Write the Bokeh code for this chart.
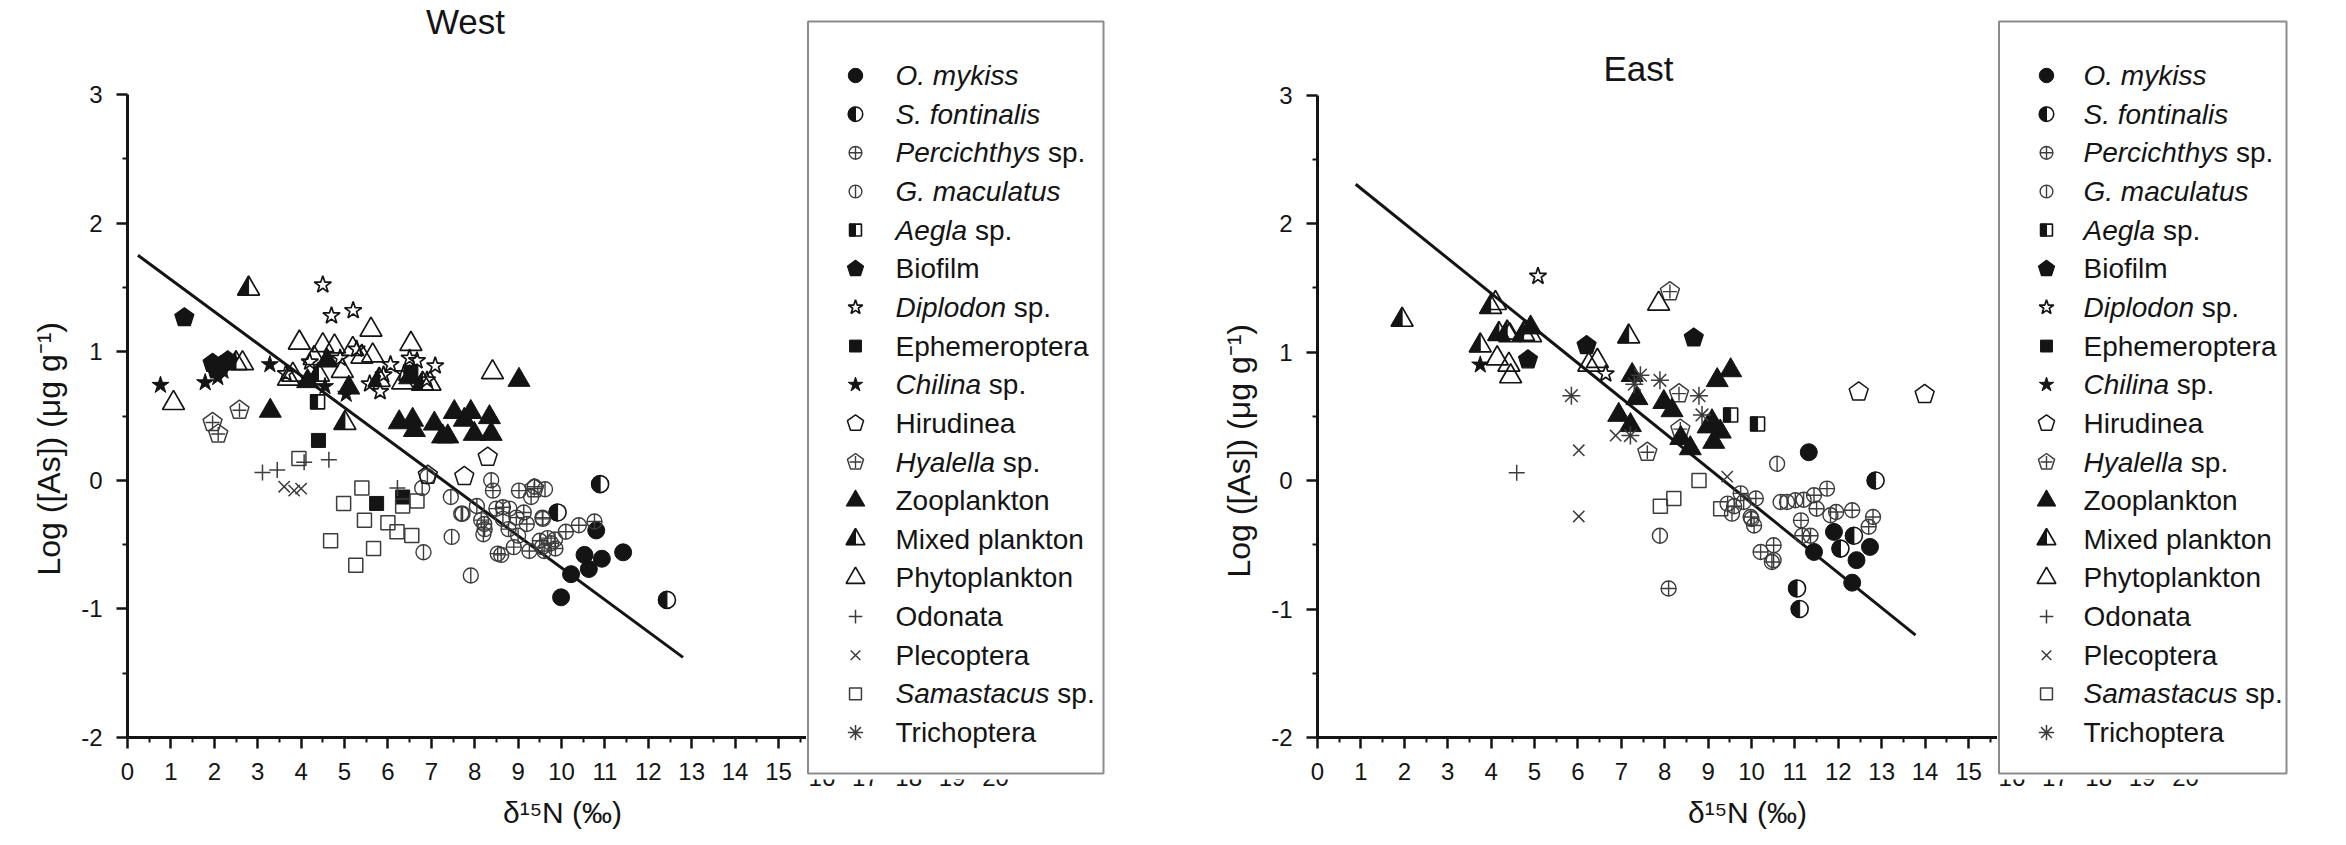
import math
from bokeh.plotting import figure
from bokeh.models import FixedTicker, Label, Range1d, Title
from bokeh.layouts import row
from bokeh.embed import file_html
from bokeh.resources import INLINE
from bokeh.core.properties import value

FONT = "Liberation Sans"
INK = "#141414"
GREY = "#3c3c3c"

# ------------------------------------------------------------------ data
SPECIES = ["o_mykiss", "s_fontinalis", "percichthys", "g_maculatus", "aegla",
           "biofilm", "diplodon", "ephemeroptera", "chilina", "hirudinea",
           "hyalella", "zooplankton", "mixed_plankton", "phytoplankton",
           "odonata", "plecoptera", "samastacus", "trichoptera"]
LEGEND_ITALIC = ["O. mykiss", "S. fontinalis", "Percichthys", "G. maculatus", "Aegla",
                 "", "Diplodon", "", "Chilina", "", "Hyalella", "", "", "", "", "",
                 "Samastacus", ""]
LEGEND_REGULAR = ["", "", "sp.", "", "sp.", "Biofilm", "sp.", "Ephemeroptera", "sp.",
                  "Hirudinea", "sp.", "Zooplankton", "Mixed plankton", "Phytoplankton",
                  "Odonata", "Plecoptera", "sp.", "Trichoptera"]

X_TICKS = list(range(0, 21))
Y_TICKS = [-2, -1, 0, 1, 2, 3]

# West (d15N, log As)
west_o_mykiss = [(10.80, -0.39), (10.53, -0.58), (10.93, -0.61), (11.42, -0.56), (10.63, -0.69),
                 (10.22, -0.73), (9.99, -0.91)]
west_s_fontinalis = [(10.89, -0.03), (9.91, -0.25), (12.43, -0.93)]
west_percichthys = [(8.15, -0.31), (8.23, -0.38), (8.53, -0.57), (8.90, -0.52), (9.20, -0.34),
                    (9.56, -0.29), (10.10, -0.40), (10.40, -0.35), (10.76, -0.32), (9.38, -0.05),
                    (9.02, -0.08), (8.65, -0.21), (8.50, -0.22), (9.13, -0.25), (9.68, -0.45),
                    (9.86, -0.53), (9.50, -0.47), (8.96, -0.29), (8.78, -0.38), (8.42, -0.08),
                    (8.61, -0.58), (9.26, -0.55), (9.60, -0.55), (8.22, -0.34), (9.76, -0.49),
                    (9.57, -0.30)]
west_g_maculatus = [(6.79, -0.06), (6.91, 0.03), (6.82, -0.56), (7.47, -0.44), (7.45, -0.13),
                    (7.91, -0.74), (7.69, -0.26), (8.38, 0.00), (8.05, -0.20), (8.65, -0.30),
                    (9.00, -0.43), (9.30, -0.13), (9.62, -0.07), (9.85, -0.46), (8.20, -0.42),
                    (8.80, -0.22), (9.55, -0.52), (7.72, -0.26)]
west_aegla = [(4.38, 0.61)]
west_biofilm = [(1.31, 1.265), (1.96, 0.91), (2.15, 0.89), (2.31, 0.93), (2.05, 0.86)]
west_diplodon = [(4.50, 1.52), (4.70, 1.28), (5.20, 1.32), (3.65, 0.83), (5.58, 0.75), (5.82, 0.69),
                 (6.06, 0.90), (6.67, 0.93), (7.09, 0.89), (6.37, 0.83), (5.28, 1.02), (4.90, 0.95),
                 (6.90, 0.78), (5.90, 0.82), (6.50, 0.95), (4.20, 0.92)]
west_ephemeroptera = [(4.40, 0.31), (5.74, -0.18), (6.34, -0.13), (6.53, 0.84)]
west_chilina = [(0.76, 0.74), (1.79, 0.76), (2.08, 0.80), (3.28, 0.90), (5.04, 0.67), (4.55, 0.73),
                (2.20, 0.85)]
west_hirudinea = [(8.30, 0.18), (7.76, 0.03), (6.92, 0.04)]
west_hyalella = [(2.58, 0.545), (1.96, 0.45), (2.09, 0.36), (9.37, -0.065)]
west_zooplankton = [(3.29, 0.54), (9.02, 0.78), (6.26, 0.45), (6.57, 0.47), (6.61, 0.39), (7.07, 0.44),
                    (7.26, 0.34), (7.53, 0.53), (7.76, 0.47), (7.91, 0.53), (8.34, 0.49), (8.38, 0.36),
                    (7.99, 0.36), (7.38, 0.34), (4.15, 0.77), (5.10, 0.72), (4.60, 0.93), (6.50, 0.80)]
west_mixed_plankton = [(2.79, 1.49), (2.50, 0.91), (5.01, 0.445), (4.40, 0.82), (5.80, 0.78),
                       (6.80, 0.75)]
west_phytoplankton = [(1.06, 0.60), (2.65, 0.91), (3.96, 1.07), (4.50, 1.05), (5.61, 1.17),
                      (6.53, 1.06), (8.41, 0.84), (3.71, 0.79), (5.40, 0.96), (6.97, 0.75),
                      (5.19, 1.02), (4.77, 1.04), (5.65, 0.97), (6.34, 0.76), (3.81, 0.82),
                      (4.30, 0.95), (4.95, 0.85)]
west_odonata = [(3.11, 0.06), (3.45, 0.08), (4.07, 0.14), (4.64, 0.16), (6.22, -0.06)]
west_plecoptera = [(3.61, -0.05), (3.84, -0.08), (4.00, -0.065)]
west_samastacus = [(3.95, 0.17), (4.98, -0.18), (5.40, -0.06), (5.46, -0.31), (4.68, -0.47),
                   (5.67, -0.53), (5.26, -0.66), (6.00, -0.33), (6.21, -0.40), (6.34, -0.20),
                   (6.55, -0.43), (6.67, -0.16)]
west_trichoptera = []
west_fit_intercept, west_fit_slope = 1.81, -0.249
west_fit_x = [0.24, 12.8]

# East
east_o_mykiss = [(11.32, 0.22), (11.44, -0.556), (12.32, -0.795), (12.42, -0.62), (12.73, -0.517),
                 (11.90, -0.40)]
east_s_fontinalis = [(12.86, 0.0), (11.05, -0.84), (11.11, -1.0), (12.05, -0.53), (12.36, -0.43)]
east_percichthys = [(8.09, -0.84), (10.21, -0.556), (10.47, -0.634), (10.51, -0.504), (11.14, -0.31),
                    (11.36, -0.43), (11.17, -0.43), (11.44, -0.115), (11.74, -0.063), (11.95, -0.245),
                    (12.32, -0.232), (12.70, -0.36), (12.80, -0.284), (11.50, -0.22), (10.10, -0.14),
                    (9.98, -0.284), (10.06, -0.35), (9.60, -0.20), (9.75, -0.10)]
east_g_maculatus = [(7.89, -0.43), (10.59, 0.13), (10.67, -0.167), (10.82, -0.167), (11.01, -0.154),
                    (9.55, -0.258), (10.51, -0.62), (9.82, -0.167), (11.82, -0.27), (10.00, -0.30),
                    (11.20, -0.15), (9.45, -0.18)]
east_aegla = [(9.52, 0.51), (10.14, 0.44)]
east_biofilm = [(4.85, 0.94), (6.20, 1.05), (8.67, 1.11)]
east_diplodon = [(5.08, 1.59), (6.64, 0.83)]
east_ephemeroptera = []
east_chilina = [(3.75, 0.90)]
east_hirudinea = [(12.47, 0.69), (13.99, 0.67)]
east_hyalella = [(8.12, 1.47), (8.33, 0.676), (7.60, 0.22), (8.36, 0.40)]
east_zooplankton = [(4.91, 1.19), (7.25, 0.82), (7.36, 0.64), (6.94, 0.51), (7.21, 0.43), (7.98, 0.61),
                    (8.17, 0.546), (9.52, 0.857), (9.21, 0.78), (9.09, 0.46), (9.28, 0.38), (9.13, 0.30),
                    (8.37, 0.33), (8.59, 0.25), (9.00, 0.42)]
east_mixed_plankton = [(1.95, 1.25), (3.99, 1.35), (4.18, 1.14), (4.37, 1.15), (4.75, 1.14),
                       (3.75, 1.05), (7.17, 1.12)]
east_phytoplankton = [(4.10, 1.38), (4.14, 0.95), (4.41, 0.90), (4.45, 0.81), (4.43, 1.13),
                      (4.91, 1.13), (6.25, 0.90), (6.45, 0.93), (7.86, 1.375)]
east_odonata = [(4.59, 0.06)]
east_plecoptera = [(6.02, 0.235), (6.02, -0.28), (6.87, 0.35), (9.44, 0.03)]
east_samastacus = [(7.90, -0.20), (8.21, -0.14), (8.79, 0.0), (9.29, -0.22)]
east_trichoptera = [(5.85, 0.66), (7.89, 0.78), (7.44, 0.82), (7.21, 0.35), (8.79, 0.66),
                    (8.86, 0.51), (7.30, 0.75)]
east_fit_intercept, east_fit_slope = 2.545, -0.272
east_fit_x = [0.88, 13.78]

WEST = [west_o_mykiss, west_s_fontinalis, west_percichthys, west_g_maculatus, west_aegla,
        west_biofilm, west_diplodon, west_ephemeroptera, west_chilina, west_hirudinea,
        west_hyalella, west_zooplankton, west_mixed_plankton, west_phytoplankton,
        west_odonata, west_plecoptera, west_samastacus, west_trichoptera]
EAST = [east_o_mykiss, east_s_fontinalis, east_percichthys, east_g_maculatus, east_aegla,
        east_biofilm, east_diplodon, east_ephemeroptera, east_chilina, east_hirudinea,
        east_hyalella, east_zooplankton, east_mixed_plankton, east_phytoplankton,
        east_odonata, east_plecoptera, east_samastacus, east_trichoptera]

# ------------------------------------------------------------------ helpers
ARIAL_W = {" ": 278, ".": 278, "A": 667, "C": 722, "D": 722, "G": 778, "H": 722, "O": 778,
           "P": 667, "S": 667, "a": 556, "c": 500, "d": 556, "e": 556, "f": 278, "g": 556,
           "h": 556, "i": 222, "k": 500, "l": 222, "m": 833, "n": 556, "o": 556, "p": 556,
           "r": 333, "s": 500, "t": 278, "u": 556, "y": 500}
LEGEND_FONT_PX = 28


def text_width(s, px):
    return sum(ARIAL_W.get(c, 556) for c in s) / 1000.0 * px


def pentagon(xs, ys, R, pxx, pxy):
    px, py = [], []
    for x, y in zip(xs, ys):
        px.append([x + R * math.cos(math.pi / 2 + 2 * math.pi * k / 5) / pxx for k in range(5)])
        py.append([y + R * math.sin(math.pi / 2 + 2 * math.pi * k / 5) / pxy for k in range(5)])
    return px, py


def draw(p, kind, xs, ys, sc, pxx, pxy, level="glyph"):
    if not xs:
        return
    kw = dict(level=level)
    open_kw = dict(fill_alpha=0, line_color=INK, line_width=1.7)
    tri = 22 * sc
    if kind == "o_mykiss":
        p.scatter(xs, ys, marker="circle", size=17 * sc, fill_color=INK, line_color=INK, **kw)
    elif kind == "s_fontinalis":
        p.scatter(xs, ys, marker="circle", size=17 * sc, fill_color="white", line_color=INK,
                  line_width=1.6, **kw)
        p.wedge(x=xs, y=ys, radius=8.5 * sc, radius_units="screen", start_angle=math.pi / 2,
                end_angle=3 * math.pi / 2, fill_color=INK, line_color=INK, **kw)
    elif kind == "percichthys":
        p.scatter(xs, ys, marker="circle_cross", size=15 * sc, fill_alpha=0, line_color=GREY,
                  line_width=1.4, **kw)
    elif kind == "g_maculatus":
        p.scatter(xs, ys, marker="circle", size=15 * sc, fill_alpha=0, line_color=GREY,
                  line_width=1.4, **kw)
        p.scatter(xs, ys, marker="dash", angle=math.pi / 2, size=15 * sc, line_color=GREY,
                  line_width=1.4, **kw)
    elif kind == "aegla":
        s = 14 * sc
        p.scatter(xs, ys, marker="square", size=s, fill_color="white", line_color=INK,
                  line_width=1.6, **kw)
        p.rect(x=[x - s / 4 / pxx for x in xs], y=ys, width=s / 2, height=s, width_units="screen",
               height_units="screen", fill_color=INK, line_color=INK, **kw)
    elif kind in ("biofilm", "hirudinea", "hyalella"):
        px, py = pentagon(xs, ys, 10 * sc, pxx, pxy)
        if kind == "biofilm":
            p.patches(px, py, fill_color=INK, line_color=INK, line_width=1.2, **kw)
        else:
            col = INK if kind == "hirudinea" else GREY
            p.patches(px, py, fill_alpha=0, line_color=col, line_width=1.5, **kw)
        if kind == "hyalella":
            p.scatter(xs, ys, marker="cross", size=14 * sc, line_color=GREY, line_width=1.4, **kw)
    elif kind == "diplodon":
        p.scatter(xs, ys, marker="star", size=18 * sc, **open_kw, **kw)
    elif kind == "ephemeroptera":
        p.scatter(xs, ys, marker="square", size=14 * sc, fill_color=INK, line_color=INK, **kw)
    elif kind == "chilina":
        p.scatter(xs, ys, marker="star", size=18 * sc, fill_color=INK, line_color=INK, **kw)
    elif kind == "zooplankton":
        p.scatter(xs, ys, marker="triangle", size=tri, fill_color=INK, line_color=INK, **kw)
    elif kind == "mixed_plankton":
        r = tri / 2
        hx = [[x, x - r / pxx, x] for x in xs]
        hy = [[y + 1.155 * r / pxy, y - 0.577 * r / pxy, y - 0.577 * r / pxy] for y in ys]
        p.patches(hx, hy, fill_color=INK, line_color=INK, line_width=1, **kw)
        p.scatter(xs, ys, marker="triangle", size=tri, **open_kw, **kw)
    elif kind == "phytoplankton":
        p.scatter(xs, ys, marker="triangle", size=tri, **open_kw, **kw)
    elif kind == "odonata":
        p.scatter(xs, ys, marker="cross", size=16 * sc, line_color=GREY, line_width=1.5, **kw)
    elif kind == "plecoptera":
        p.scatter(xs, ys, marker="x", size=16 * sc, line_color=GREY, line_width=1.5, **kw)
    elif kind == "samastacus":
        p.scatter(xs, ys, marker="square", size=14 * sc, fill_alpha=0, line_color=GREY,
                  line_width=1.5, **kw)
    elif kind == "trichoptera":
        p.scatter(xs, ys, marker="asterisk", size=18 * sc, line_color=GREY, line_width=1.5, **kw)


def no_frame_align(p):
    if "frame_align" in p.properties():
        p.frame_align = False


FIG_H = 845
FRAME_H = 737          # frame runs from the top of the page down to y = -2
TITLE_FONT = "35px"
XLABEL_PX = 30
YLABEL_PX = 32
XLABEL = "δ¹⁵N (‰)"
YLABEL = "Log ([As]) (μg g⁻¹)"


def data_panel(name, data, fit, pxx, pxy, x0_px, frame_w, title_xy, xlabel_px, ylabel_px):
    """x0_px: page x of the y axis; title/labels given as page pixel positions (centres)."""
    y_top = -2 + FRAME_H / pxy
    p = figure(frame_width=frame_w, frame_height=FRAME_H, min_border_left=x0_px,
               min_border_right=0, min_border_top=0, min_border_bottom=FIG_H - FRAME_H,
               x_range=Range1d(0, frame_w / pxx), y_range=Range1d(-2, y_top),
               output_backend="svg", toolbar_location=None, background_fill_color="white",
               border_fill_color="white")
    no_frame_align(p)
    p.outline_line_color = None
    p.grid.visible = False

    for ax in (p.xaxis[0], p.yaxis[0]):
        ax.axis_line_width = 3
        ax.axis_line_color = INK
        ax.major_tick_line_width = 2.5
        ax.minor_tick_line_width = 2
        ax.major_tick_line_color = INK
        ax.minor_tick_line_color = INK
        ax.major_tick_out = 11
        ax.minor_tick_out = 5
        ax.major_tick_in = 0
        ax.minor_tick_in = 0
        ax.major_label_text_font = FONT
        ax.major_label_text_font_size = "24px"
        ax.major_label_text_color = INK
    p.xaxis.ticker = FixedTicker(ticks=X_TICKS, minor_ticks=[t + 0.5 for t in X_TICKS[:-1]])
    p.xaxis.major_label_standoff = 14
    p.yaxis.ticker = FixedTicker(ticks=Y_TICKS, minor_ticks=[t + 0.5 for t in Y_TICKS[:-1]])
    p.yaxis.bounds = (Y_TICKS[0], Y_TICKS[-1])
    p.yaxis.major_label_standoff = 14
    p.yaxis.major_label_overrides = {t: str(t) for t in Y_TICKS}

    b0, b1, xr = fit
    p.line(xr, [b0 + b1 * x for x in xr], line_color=INK, line_width=3)

    for kind, pts in zip(SPECIES, data):
        draw(p, kind, [q[0] for q in pts], [q[1] for q in pts], 1.0, pxx, pxy)

    # panel title inside the frame
    p.add_layout(Label(x=(title_xy[0] - x0_px) / pxx, y=y_top - title_xy[1] / pxy, text=name,
                       text_font=FONT, text_font_size=TITLE_FONT, text_align="center",
                       text_baseline="middle", text_color=INK))
    # axis titles in the side panels (left-aligned + offset so they sit where the original has them)
    xw = text_width("dNN (%%)", XLABEL_PX)
    p.add_layout(Title(text=XLABEL, align="left", offset=xlabel_px - xw / 2 - x0_px,
                       standoff=22, text_font=FONT, text_font_size=f"{XLABEL_PX}px",
                       text_font_style="normal", text_color=INK), "below")
    yw = text_width("Log ([As]) (mg g-1)", YLABEL_PX)
    p.add_layout(Title(text=YLABEL, align="left", offset=FRAME_H - (ylabel_px + yw / 2),
                       standoff=24, text_font=FONT, text_font_size=f"{YLABEL_PX}px",
                       text_font_style="normal", text_color=INK), "left")
    return p


def legend_panel(width, pxx, pxy, x_start, box_right_px, marker_px, text_px, yaxis_px):
    """Legend drawn in its own figure; x continues the data panel's scale."""
    y_top = -2 + yaxis_px / pxy            # page y = 0
    y_bot = y_top - FIG_H / pxy
    p = figure(frame_width=width, frame_height=FIG_H, min_border=0, x_axis_location=None,
               y_axis_location=None, x_range=Range1d(x_start, x_start + width / pxx),
               y_range=Range1d(y_bot, y_top), output_backend="svg", toolbar_location=None,
               background_fill_color="white", border_fill_color="white")
    no_frame_align(p)
    p.outline_line_color = None
    p.grid.visible = False

    def ypix(Y):
        return y_top - Y / pxy

    def xpix(X):
        return x_start + X / pxx

    # the data panel's remaining tick labels, upper half hidden by the legend's white margin
    hidden = [t for t in X_TICKS if t > x_start]
    p.text(x=hidden, y=[ypix(777)] * len(hidden), text=[str(t) for t in hidden],
           text_font=value(FONT), text_font_size="24px", text_align="center",
           text_baseline="middle", text_color=INK)
    p.quad(left=[xpix(0)], right=[xpix(box_right_px + 2)], top=[ypix(21)], bottom=[ypix(779)],
           fill_color="white", line_color=None, level="overlay")
    p.quad(left=[xpix(1.5)], right=[xpix(box_right_px)], top=[ypix(21)], bottom=[ypix(773)],
           fill_color="white", line_color="#8c8c8c", line_width=2, level="overlay")
    for i, kind in enumerate(SPECIES):
        yy = ypix(75 + i * 38.65)
        draw(p, kind, [xpix(marker_px)], [yy], 0.85, pxx, pxy, level="overlay")
        xt = xpix(text_px)
        if LEGEND_ITALIC[i]:
            p.text(x=[xt], y=[yy], text=[LEGEND_ITALIC[i]], text_font=value(FONT),
                   text_font_style="italic", text_font_size=f"{LEGEND_FONT_PX}px",
                   text_baseline="middle", text_color=INK, level="overlay")
            xt += text_width(LEGEND_ITALIC[i] + " ", LEGEND_FONT_PX) / pxx
        if LEGEND_REGULAR[i]:
            p.text(x=[xt], y=[yy], text=[LEGEND_REGULAR[i]], text_font=value(FONT),
                   text_font_size=f"{LEGEND_FONT_PX}px", text_baseline="middle",
                   text_color=INK, level="overlay")
    return p


PXX = 43.4
west = data_panel("West", WEST, (west_fit_intercept, west_fit_slope, west_fit_x),
                  PXX, 128.6, 127, 679, (465, 21), 565, 414)
west_leg = legend_panel(374, PXX, 128.6, 679 / PXX, 297, 49, 89, 737)
east = data_panel("East", EAST, (east_fit_intercept, east_fit_slope, east_fit_x),
                  PXX, 128.5, 137, 680, (1638 - 1180, 68), 1750 - 1180, 416)
east_leg = legend_panel(349, PXX, 128.5, 680 / PXX, 289, 49, 86, 737)

layout = row(west, west_leg, east, east_leg)
open("out.html", "w").write(file_html(layout, INLINE))
